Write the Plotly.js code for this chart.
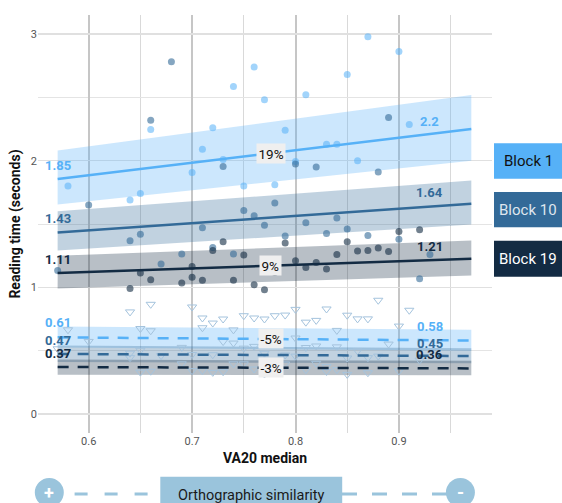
<!DOCTYPE html>
<html>
<head>
<meta charset="utf-8">
<script src="https://cdn.plot.ly/plotly-3.0.1.min.js"></script>
<style>
  html, body { margin: 0; padding: 0; background: #ffffff; }
  #chart { width: 562px; height: 503px; }
</style>
</head>
<body>
<div id="chart"></div>
<script>
// ---------------- data ----------------
const blocks = ["Block 1", "Block 10", "Block 19"];
const blockColors = ["#56B1F7", "#336A98", "#132B43"];
const pointColors = ["rgba(86,177,247,0.55)", "rgba(51,106,152,0.6)", "rgba(19,43,67,0.6)"];
const ribbonColors = ["rgba(86,177,247,0.3)", "rgba(51,106,152,0.3)", "rgba(19,43,67,0.3)"];
const blockTextColors = ["#111111", "#dfe6ee", "#ffffff"];

// fitted-line extent on x
const fitX = [0.57, 0.97];
const labelX = [0.57, 0.93];

// solid fits (high similarity / circles)
const solidStart = [1.855, 1.433, 1.113];
const solidEnd   = [2.25, 1.66, 1.226];
const solidLoStart = [1.654, 1.29, 0.99];
const solidLoEnd   = [2.0, 1.497, 1.094];
const solidHiStart = [2.08, 1.60, 1.25];
const solidHiEnd   = [2.518, 1.844, 1.37];

// dashed fits (triangles)
const dashStart = [0.605, 0.474, 0.371];
const dashEnd   = [0.58, 0.458, 0.36];
const dashLoStart = [0.525, 0.41, 0.31];
const dashLoEnd   = [0.50, 0.40, 0.305];
const dashHiStart = [0.69, 0.54, 0.43];
const dashHiEnd   = [0.665, 0.52, 0.42];

// end labels
const solidLabelLeft  = ["1.85", "1.43", "1.11"];
const solidLabelRight = ["2.2", "1.64", "1.21"];
const dashLabelLeft   = ["0.61", "0.47", "0.37"];
const dashLabelRight  = ["0.58", "0.45", "0.36"];

// percent-change labels
const pctText = ["19%", "9%", "-5%", "-3%"];
const pctY = [2.06, 1.17, 0.594, 0.37];
const pctX = 0.776;

// circle points per block
const b1X = [0.58, 0.64, 0.65, 0.66, 0.70, 0.71, 0.72, 0.73, 0.74, 0.75, 0.76, 0.77, 0.78, 0.79, 0.80, 0.81, 0.83, 0.84, 0.85, 0.86, 0.87, 0.90, 0.91];
const b1Y = [1.80, 1.69, 1.74, 2.246, 1.907, 2.09, 2.26, 2.01, 2.586, 1.80, 2.74, 2.48, 1.81, 2.24, 1.994, 2.52, 2.13, 2.13, 2.68, 2.0, 2.978, 2.862, 2.286];

const b10X = [0.57, 0.60, 0.64, 0.65, 0.66, 0.67, 0.68, 0.69, 0.71, 0.72, 0.73, 0.74, 0.75, 0.76, 0.77, 0.78, 0.79, 0.80, 0.81, 0.82, 0.83, 0.84, 0.85, 0.87, 0.88, 0.89, 0.90, 0.92, 0.93];
const b10Y = [1.133, 1.65, 1.368, 1.42, 2.32, 1.184, 2.78, 1.263, 1.47, 1.315, 1.954, 1.263, 1.607, 1.565, 1.49, 1.665, 1.405, 1.973, 1.51, 1.95, 1.425, 1.547, 1.46, 1.41, 1.91, 2.34, 1.38, 1.068, 1.26];

const b19X = [0.64, 0.65, 0.66, 0.69, 0.70, 0.70, 0.71, 0.72, 0.73, 0.74, 0.75, 0.76, 0.77, 0.78, 0.79, 0.80, 0.81, 0.82, 0.83, 0.84, 0.85, 0.86, 0.87, 0.88, 0.89, 0.90, 0.92];
const b19Y = [0.99, 1.113, 1.06, 1.034, 1.165, 1.08, 1.055, 1.29, 1.36, 1.055, 1.255, 1.02, 0.98, 1.12, 1.35, 1.21, 1.157, 1.197, 1.144, 1.26, 1.36, 1.287, 1.29, 1.31, 1.283, 1.44, 1.455];

// triangle points (low similarity)
const triX = [0.57, 0.58, 0.60, 0.64, 0.64, 0.64, 0.65, 0.65, 0.65, 0.66, 0.66, 0.66, 0.67, 0.69, 0.69,
  0.70, 0.70, 0.70, 0.71, 0.71, 0.71, 0.72, 0.72, 0.72, 0.73, 0.73, 0.73, 0.74, 0.74, 0.74,
  0.75, 0.75, 0.75, 0.76, 0.76, 0.76, 0.77, 0.77, 0.77, 0.78, 0.78, 0.79, 0.79, 0.79,
  0.80, 0.80, 0.80, 0.81, 0.81, 0.81, 0.82, 0.82, 0.82, 0.83, 0.83, 0.83, 0.84, 0.84, 0.84,
  0.85, 0.85, 0.85, 0.86, 0.86, 0.87, 0.87, 0.87, 0.88, 0.88, 0.89, 0.90, 0.90, 0.91, 0.92];
const triY = [0.515, 0.665, 0.573, 0.806, 0.48, 0.445, 0.675, 0.503, 0.331, 0.866, 0.657, 0.338, 0.461, 0.526, 0.396,
  0.845, 0.47, 0.342, 0.758, 0.681, 0.342, 0.718, 0.468, 0.329, 0.75, 0.572, 0.334, 0.664, 0.56, 0.396,
  0.776, 0.52, 0.396, 0.758, 0.534, 0.355, 0.75, 0.48, 0.316, 0.776, 0.40, 0.781, 0.466, 0.395,
  0.826, 0.60, 0.457, 0.725, 0.525, 0.35, 0.739, 0.537, 0.40, 0.829, 0.376, 0.336, 0.66, 0.53, 0.35,
  0.78, 0.442, 0.313, 0.751, 0.498, 0.751, 0.445, 0.326, 0.898, 0.457, 0.552, 0.694, 0.34, 0.819, 0.425];

const xTicks = [0.6, 0.7, 0.8, 0.9];
const yTicks = [0, 1, 2, 3];
const xTitle = "VA20 median";
const yTitle = "Reading time (seconds)";
const bottomLabel = "Orthographic similarity";

// ---------------- layout geometry ----------------
const M = { l: 38, r: 70, t: 15, b: 70 };
const W = 562, H = 503;
const PW = W - M.l - M.r, PH = H - M.t - M.b;
const px = v => (v - M.l) / PW;
const py = v => (H - M.b - v) / PH;

const FONT = "Roboto, 'Noto Sans', Arial, sans-serif";
const traces = [];

// ribbons
for (let i = 0; i < 3; i++) {
  traces.push({
    type: "scatter", mode: "lines", x: [fitX[0], fitX[1], fitX[1], fitX[0]],
    y: [solidLoStart[i], solidLoEnd[i], solidHiEnd[i], solidHiStart[i]],
    fill: "toself", fillcolor: ribbonColors[i], line: { width: 0 }, hoverinfo: "skip", showlegend: false
  });
  traces.push({
    type: "scatter", mode: "lines", x: [fitX[0], fitX[1], fitX[1], fitX[0]],
    y: [dashLoStart[i], dashLoEnd[i], dashHiEnd[i], dashHiStart[i]],
    fill: "toself", fillcolor: ribbonColors[i], line: { width: 0 }, hoverinfo: "skip", showlegend: false
  });
}

// triangles
traces.push({
  type: "scatter", mode: "markers", x: triX, y: triY,
  marker: { symbol: "triangle-down-open", size: 8, color: "#a4c3dd", line: { width: 1 } },
  showlegend: false, hoverinfo: "skip"
});

// circles
const ptsX = [b1X, b10X, b19X], ptsY = [b1Y, b10Y, b19Y];
for (let i = 0; i < 3; i++) {
  traces.push({
    type: "scatter", mode: "markers", x: ptsX[i], y: ptsY[i], name: blocks[i],
    marker: { symbol: "circle", size: 7, color: pointColors[i] },
    showlegend: false, hoverinfo: "skip"
  });
}

// fitted lines
for (let i = 0; i < 3; i++) {
  traces.push({
    type: "scatter", mode: "lines", x: fitX, y: [solidStart[i], solidEnd[i]],
    line: { color: blockColors[i], width: 2.5 }, showlegend: false, hoverinfo: "skip"
  });
  traces.push({
    type: "scatter", mode: "lines", x: fitX, y: [dashStart[i], dashEnd[i]],
    line: { color: blockColors[i], width: 2.5, dash: "11px,9px" }, showlegend: false, hoverinfo: "skip"
  });
}

const annotations = [];
const labelSets = [solidLabelLeft, solidLabelRight, dashLabelLeft, dashLabelRight];
const labelXs = [labelX[0], labelX[1], labelX[0], labelX[1]];
labelSets.forEach((set, k) => {
  set.forEach((t, i) => {
    annotations.push({
      x: labelXs[k], y: parseFloat(t), xref: "x", yref: "y", text: "<b>" + t + "</b>",
      showarrow: false, yshift: 14, font: { family: FONT, size: 13, color: blockColors[i] }
    });
  });
});
pctText.forEach((t, i) => {
  annotations.push({
    x: pctX, y: pctY[i], xref: "x", yref: "y", text: t, showarrow: false,
    bgcolor: "#efefef", borderpad: 1.5, font: { family: FONT, size: 13.5, color: "#111111" }
  });
});

// block legend boxes
const boxTop = [143.3, 192, 240.7], boxBot = [178.7, 227.3, 276.7];
const shapes = [];
for (let i = 0; i < 3; i++) {
  shapes.push({
    type: "rect", xref: "paper", yref: "paper", x0: px(494), x1: px(570),
    y0: py(boxBot[i]), y1: py(boxTop[i]), fillcolor: blockColors[i], line: { width: 0 }, layer: "above"
  });
  annotations.push({
    xref: "paper", yref: "paper", x: px(528), y: py((boxTop[i] + boxBot[i]) / 2),
    text: blocks[i], showarrow: false, xanchor: "center", yanchor: "middle",
    font: { family: FONT, size: 15, color: blockTextColors[i] }
  });
}

// bottom key
const keyCol = "#9ac4dc";
const keyY = 494;
shapes.push({ type: "line", xref: "paper", yref: "paper", x0: px(74.6), x1: px(160), y0: py(keyY), y1: py(keyY),
  line: { color: keyCol, width: 3, dash: "13px,17px" } });
shapes.push({ type: "line", xref: "paper", yref: "paper", x0: px(342), x1: px(450), y0: py(keyY), y1: py(keyY),
  line: { color: keyCol, width: 3, dash: "15px,15px" } });
shapes.push({ type: "rect", xref: "paper", yref: "paper", x0: px(160.3), x1: px(342.2), y0: py(515), y1: py(476.7),
  fillcolor: keyCol, line: { width: 0 } });
const circ = [[49.3, 492.5], [460.4, 492.5]];
circ.forEach(c => {
  shapes.push({ type: "circle", xref: "paper", yref: "paper", x0: px(c[0] - 14.5), x1: px(c[0] + 14.5),
    y0: py(c[1] + 14.5), y1: py(c[1] - 14.5), fillcolor: keyCol, line: { width: 0 } });
});
annotations.push({ xref: "paper", yref: "paper", x: px(251.5), y: py(495), text: bottomLabel, showarrow: false,
  xanchor: "center", yanchor: "middle", font: { family: FONT, size: 14.5, color: "#1a1a1a" } });
annotations.push({ xref: "paper", yref: "paper", x: px(49.3), y: py(492), text: "<b>+</b>", showarrow: false,
  xanchor: "center", yanchor: "middle", font: { family: FONT, size: 18, color: "#ffffff" } });
annotations.push({ xref: "paper", yref: "paper", x: px(460.4), y: py(492), text: "<b>-</b>", showarrow: false,
  xanchor: "center", yanchor: "middle", font: { family: FONT, size: 18, color: "#ffffff" } });

const layout = {
  width: W, height: H, margin: M, paper_bgcolor: "#ffffff", plot_bgcolor: "#ffffff",
  showlegend: false, hovermode: false,
  font: { family: FONT },
  xaxis: {
    range: [0.551, 0.990], tickvals: xTicks, ticktext: xTicks.map(v => v.toFixed(1)),
    showgrid: true, gridcolor: "#c6c6c6", gridwidth: 2, zeroline: false, showline: false, ticks: "",
    tickfont: { family: FONT, size: 11, color: "#555555" },
    minor: { tickvals: [0.65, 0.75, 0.85, 0.95], showgrid: true, gridcolor: "#d9d9d9", gridwidth: 1 },
    title: { text: "<b>" + xTitle + "</b>", font: { family: FONT, size: 14, color: "#111111" }, standoff: 6 }
  },
  yaxis: {
    range: [-0.15, 3.15], tickvals: yTicks, ticktext: yTicks.map(String),
    showgrid: true, gridcolor: "#e0e0e0", gridwidth: 1.5, zeroline: false, showline: false, ticks: "",
    tickfont: { family: FONT, size: 11, color: "#555555" },
    minor: { tickvals: [0.5, 1.5, 2.5], showgrid: true, gridcolor: "#e4e4e4", gridwidth: 1 },
    title: { text: "<b>" + yTitle + "</b>", font: { family: FONT, size: 14, color: "#111111" }, standoff: 6 }
  },
  annotations: annotations,
  shapes: shapes
};

Plotly.newPlot("chart", traces, layout, { displayModeBar: false, staticPlot: true });
</script>
</body>
</html>
